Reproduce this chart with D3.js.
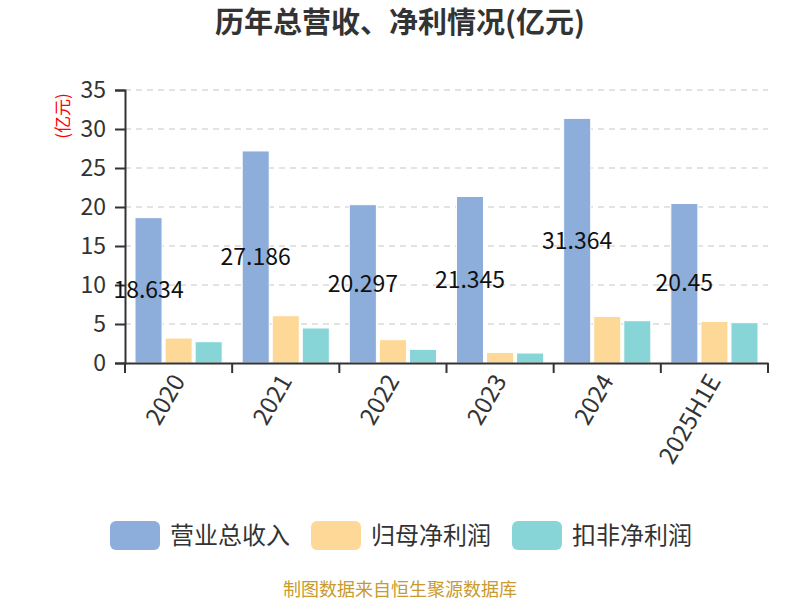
<!DOCTYPE html>
<html>
<head>
<meta charset="utf-8">
<script src="https://cdn.jsdelivr.net/npm/d3@7"></script>
<style>
    body { margin: 0; background: #fff; }
    text { font-family: "Noto Sans CJK SC", "Noto Sans", sans-serif; }
</style>
</head>
<body>
<div class="chart"></div>
<script>
// chart data
var years = ['2020', '2021', '2022', '2023', '2024', '2025H1E'];
var seriesNames = ['营业总收入', '归母净利润', '扣非净利润'];
var revenue = [18.634, 27.186, 20.297, 21.345, 31.364, 20.45];
var netProfit = [3.2, 6.06, 2.99, 1.36, 5.97, 5.33];
var deductedProfit = [2.73, 4.49, 1.75, 1.28, 5.42, 5.17];
var yTicks = [0, 5, 10, 15, 20, 25, 30, 35];
var colors = ['#8daddb', '#fed897', '#88d5d8'];

var width = 800, height = 600;
var margin = { top: 90, right: 32, bottom: 237, left: 125 };
var innerW = width - margin.left - margin.right,
    innerH = height - margin.top - margin.bottom;

var svg = d3.select('.chart').append('svg')
    .attr('width', width)
    .attr('height', height);

svg.append('text')
    .attr('x', 400)
    .attr('y', 33)
    .attr('text-anchor', 'middle')
    .attr('font-size', 29)
    .attr('font-weight', 'bold')
    .attr('fill', '#333')
    .text('历年总营收、净利情况(亿元)');

var g = svg.append('g')
    .attr('transform', 'translate(' + margin.left + ',' + margin.top + ')');

var x0 = d3.scaleBand().domain(years).range([0, innerW]);
var x1 = d3.scaleBand().domain(d3.range(3))
    .range([10, x0.bandwidth() - 10])
    .paddingInner(0.1);
var y = d3.scaleLinear().domain([0, 35]).range([innerH, 0]);

// dashed grid
g.selectAll('.grid')
    .data(yTicks.filter(d => d > 0))
    .enter().append('line')
    .attr('x1', 0).attr('x2', innerW)
    .attr('y1', d => y(d)).attr('y2', d => y(d))
    .attr('stroke', '#c8c8c8')
    .attr('stroke-width', 1.2)
    .attr('stroke-dasharray', '6,5');

var rows = years.map((yr, i) => ({ year: yr, vals: [revenue[i], netProfit[i], deductedProfit[i]] }));

var groups = g.selectAll('.grp')
    .data(rows)
    .enter().append('g')
    .attr('transform', d => 'translate(' + x0(d.year) + ',0)');

groups.selectAll('rect')
    .data(d => d.vals)
    .enter().append('rect')
    .attr('x', (d, i) => x1(i))
    .attr('width', x1.bandwidth())
    .attr('y', d => y(d))
    .attr('height', d => innerH - y(d))
    .attr('fill', (d, i) => colors[i])
    .attr('stroke', '#fff')
    .attr('stroke-width', 1);

// y axis
var yAxis = g.append('g')
    .call(d3.axisLeft(y).tickValues(yTicks).tickSize(10).tickPadding(9));
yAxis.select('.domain').attr('stroke', '#333').attr('stroke-width', 2);
yAxis.selectAll('.tick line').attr('stroke', '#333').attr('stroke-width', 2);
yAxis.selectAll('text')
    .attr('font-size', 23)
    .attr('fill', '#333');

// x axis
var xAxis = g.append('g')
    .attr('transform', 'translate(0,' + innerH + ')')
    .call(d3.axisBottom(x0).tickSize(0).tickSizeOuter(0));
xAxis.select('.domain').attr('stroke', '#333').attr('stroke-width', 2);
xAxis.selectAll('.tick text')
    .attr('font-size', 24)
    .attr('fill', '#333')
    .attr('text-anchor', 'end')
    .attr('transform', 'translate(2,10) rotate(-60)')
    .attr('dy', '0.35em')
    .attr('y', 0)
    .attr('x', -4);

g.selectAll('.bnd')
    .data(d3.range(years.length + 1))
    .enter().append('line')
    .attr('x1', d => d * x0.step()).attr('x2', d => d * x0.step())
    .attr('y1', innerH).attr('y2', innerH + 10)
    .attr('stroke', '#333')
    .attr('stroke-width', 2);

// value labels on revenue bars
g.selectAll('.lbl')
    .data(rows)
    .enter().append('text')
    .attr('x', d => x0(d.year) + x1(0) + x1.bandwidth() / 2)
    .attr('y', d => y(d.vals[0] / 2))
    .attr('dy', '0.35em')
    .attr('text-anchor', 'middle')
    .attr('font-size', 23)
    .attr('fill', '#111')
    .text(d => d.vals[0]);

// y unit label
svg.append('text')
    .attr('transform', 'translate(69,116) rotate(-90)')
    .attr('text-anchor', 'middle')
    .attr('font-size', 17)
    .attr('fill', '#ff0000')
    .text('(亿元)');

// legend
var legend = svg.selectAll('.leg')
    .data(seriesNames)
    .enter().append('g')
    .attr('transform', (d, i) => 'translate(' + (110 + i * 201) + ',521)');
legend.append('rect')
    .attr('width', 50).attr('height', 29)
    .attr('rx', 6)
    .attr('fill', (d, i) => colors[i]);
legend.append('text')
    .attr('x', 60).attr('y', 15)
    .attr('dy', '0.35em')
    .attr('font-size', 24)
    .attr('fill', '#333')
    .text(d => d);

svg.append('text')
    .attr('x', 400)
    .attr('y', 596)
    .attr('text-anchor', 'middle')
    .attr('font-size', 18)
    .attr('fill', '#c99a2e')
    .text('制图数据来自恒生聚源数据库');
</script>
</body>
</html>
